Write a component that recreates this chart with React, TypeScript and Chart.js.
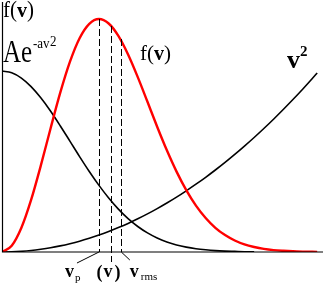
import React, { useEffect, useRef } from "react";
import { Chart, registerables } from "chart.js";

Chart.register(...registerables);

// speed in units of the most probable speed v_p
const speeds = [0, 0.1, 0.2, 0.3, 0.4, 0.5, 0.6, 0.7, 0.8, 0.9, 1.0, 1.1, 1.2, 1.3, 1.4, 1.5, 1.6, 1.7, 1.8, 1.9, 2.0, 2.1, 2.2, 2.3, 2.4, 2.5, 2.6, 2.7, 2.8, 2.9, 3.0, 3.1, 3.2, 3.25];
// f(v) (red)
const maxwell = [0, 6.3, 24.3, 52.1, 86.4, 123.3, 159.1, 190.1, 213.8, 228.2, 233.0, 228.5, 216.1, 197.5, 174.9, 150.2, 125.3, 101.7, 80.4, 61.9, 46.4, 34.0, 24.2, 16.9, 11.5, 7.6, 5.0, 3.1, 1.9, 1.2, 0.7, 0.4, 0.2, 0.1];
// A e^{-a v^2}
const gaussian = [181, 179.2, 173.9, 165.4, 154.2, 141.0, 126.3, 110.9, 95.4, 80.5, 66.6, 54.0, 42.9, 33.4, 25.5, 19.1, 14.0, 10.1, 7.1, 4.9, 3.3, 2.2, 1.4, 0.9, 0.6, 0.3, 0.2, null, null, null, null, null, null, null];
// v^2
const vSquared = [0, 0.2, 0.7, 1.5, 2.7, 4.2, 6.1, 8.3, 10.8, 13.7, 16.9, 20.5, 24.4, 28.6, 33.2, 38.1, 43.4, 49.0, 54.9, 61.2, 67.8, 74.7, 82.0, 89.6, 97.6, 105.9, 114.5, 123.5, 132.8, 142.5, 152.5, 162.8, 173.5, 179.0];

// characteristic speeds: v_p, <v>, v_rms and the height of f(v) there
const markerSpeeds = [1.0, 1.128, 1.225];
const markerTops = [233, 226, 213];

const SERIF = '"Liberation Serif", "Times New Roman", serif';

function txt(ctx: CanvasRenderingContext2D, s: string, x: number, y: number, font: string, sy = 1, color = "#000") {
  ctx.save();
  ctx.font = font;
  ctx.fillStyle = color;
  ctx.textAlign = "left";
  ctx.textBaseline = "alphabetic";
  ctx.translate(x, y);
  ctx.scale(1, sy);
  ctx.fillText(s, 0, 0);
  ctx.restore();
}

const decorations = {
  id: "decorations",
  afterDatasetsDraw(chart: any) {
    const ctx: CanvasRenderingContext2D = chart.ctx;
    const xs = chart.scales.x;
    const ys = chart.scales.y;
    const x0 = xs.getPixelForValue(0);
    const y0 = ys.getPixelForValue(0);
    const yTop = ys.getPixelForValue(ys.max);
    const xEnd = xs.getPixelForValue(xs.max);

    ctx.save();
    // axes
    ctx.strokeStyle = "#000";
    ctx.lineWidth = 1.2;
    ctx.beginPath();
    ctx.moveTo(x0 + 0.5, yTop);
    ctx.lineTo(x0 + 0.5, y0);
    ctx.lineTo(xEnd, y0);
    ctx.stroke();

    // dashed markers
    const mx = markerSpeeds.map((v) => xs.getPixelForValue(v));
    ctx.lineWidth = 1;
    ctx.setLineDash([7, 3]);
    markerSpeeds.forEach((v, i) => {
      const px = Math.round(mx[i]) + 0.5;
      ctx.beginPath();
      ctx.moveTo(px, ys.getPixelForValue(markerTops[i]));
      ctx.lineTo(px, i === 1 ? y0 + 10 : y0);
      ctx.stroke();
    });
    ctx.setLineDash([]);
    // leader lines
    ctx.beginPath();
    ctx.moveTo(mx[0], y0);
    ctx.lineTo(mx[0] - 22, y0 + 11);
    ctx.moveTo(mx[2] + 0.5, y0);
    ctx.lineTo(mx[2] + 9, y0 + 8);
    ctx.stroke();
    ctx.restore();

    // labels
    txt(ctx, "f(", 3, 17, `21px ${SERIF}`, 1.08);
    txt(ctx, "v", 17, 17, `bold 20px ${SERIF}`, 1.08);
    txt(ctx, ")", 27, 17, `21px ${SERIF}`, 1.08);

    txt(ctx, "Ae", 3, 62, `25px ${SERIF}`, 1.3);
    txt(ctx, "-av", 33, 48, `13px ${SERIF}`, 1.15);
    txt(ctx, "2", 50, 46, `13px ${SERIF}`, 1.1);

    txt(ctx, "f(", 140, 60, `21px ${SERIF}`);
    txt(ctx, "v", 154, 60, `bold 20px ${SERIF}`);
    txt(ctx, ")", 164, 60, `21px ${SERIF}`);

    txt(ctx, "v", 287, 68, `bold 26px ${SERIF}`);
    txt(ctx, "2", 300, 56, `bold 15px ${SERIF}`);

    const by = y0 + 25;
    txt(ctx, "v", mx[0] - 34, by, `bold 18px ${SERIF}`);
    txt(ctx, "p", mx[0] - 24, by + 4, `11px ${SERIF}`);
    txt(ctx, "(", mx[1] - 15, by + 1, `bold 18px ${SERIF}`);
    txt(ctx, "v", mx[1] - 8, by, `bold 18px ${SERIF}`);
    txt(ctx, ")", mx[1] + 3, by + 1, `bold 18px ${SERIF}`);
    txt(ctx, "v", mx[2] + 9, by, `bold 18px ${SERIF}`);
    txt(ctx, "rms", mx[2] + 20, by + 3, `11px ${SERIF}`);
  },
};

export default function App() {
  const ref = useRef<HTMLCanvasElement>(null);
  useEffect(() => {
    const pts = (arr: (number | null)[]) => speeds.map((v, i) => ({ x: v, y: arr[i] }));
    const chart = new Chart(ref.current!, {
      type: "line",
      data: {
        datasets: [
          { label: "f(v)", data: pts(maxwell), borderColor: "#ff0000", borderWidth: 2.4, pointRadius: 0, cubicInterpolationMode: "monotone", fill: false },
          { label: "Ae^-av2", data: pts(gaussian), borderColor: "#000", borderWidth: 1.6, pointRadius: 0, cubicInterpolationMode: "monotone", fill: false },
          { label: "v2", data: pts(vSquared), borderColor: "#000", borderWidth: 1.6, pointRadius: 0, cubicInterpolationMode: "monotone", fill: false },
        ] as any,
      },
      options: {
        animation: false,
        responsive: true,
        maintainAspectRatio: false,
        layout: { padding: { top: 2, left: 2, right: 0, bottom: 34 }, autoPadding: false },
        plugins: { legend: { display: false }, tooltip: { enabled: false } },
        scales: {
          x: { type: "linear", min: 0, max: 3.31, display: false },
          y: { type: "linear", min: 0, max: 250, display: false },
        },
      } as any,
      plugins: [decorations],
    });
    return () => chart.destroy();
  }, []);
  return (
    <div style={{ position: "fixed", left: 0, top: 0, width: 323, height: 286, background: "#fff" }}>
      <canvas ref={ref} />
    </div>
  );
}
